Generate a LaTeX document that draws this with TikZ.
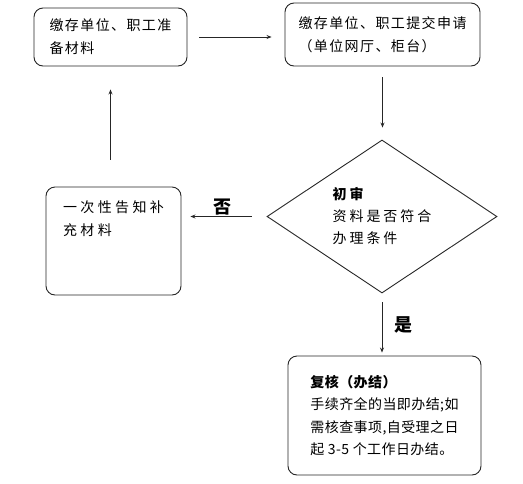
\documentclass[tikz,border=0pt]{standalone}
\usepackage{fontspec}
\setmainfont{Noto Sans CJK SC}
\usetikzlibrary{shapes.geometric,arrows.meta}
\begin{document}
\begin{tikzpicture}[x=1pt,y=-1pt,flow box/.style={draw=black!85, line width=0.9pt, rounded corners=9pt, align=left, inner sep=0pt, font=\fontsize{14}{23}\selectfont\addfontfeature{LetterSpace=10}},wide box/.style={flow box, font=\fontsize{14}{23}\selectfont\addfontfeature{LetterSpace=24}},decision node/.style={draw=black!85, line width=0.9pt, shape=diamond, inner sep=0pt, minimum width=230pt, minimum height=153pt},decision text/.style={align=left, inner sep=0pt, font=\fontsize{14}{22}\selectfont\addfontfeature{LetterSpace=21}},answer label/.style={font=\fontsize{18}{18}\selectfont\bfseries, inner sep=0pt},flow arrow/.style={draw=black!85, line width=0.8pt, -{Stealth[length=5pt,width=4pt]}}]%
  % Step 1%
\node[flow box, minimum width=153pt, minimum height=58pt] (prep) at (110.5,37) {缴存单位、职工准\\备材料};%
  % Step 2%
\node[flow box, minimum width=195pt, minimum height=63pt] (submit) at (382.5,34.5) {缴存单位、职工提交申请\\（单位网厅、柜台）};%
  % First review%
\node[decision node] (check) at (382,216.5) {};%
\node[decision text] (checktext) at (382,216) {\textbf{初审}\\资料是否符合\\办理条件};%
  % Rejected%
\node[wide box, minimum width=135pt, minimum height=108pt] (more) at (113.5,241) {一次性告知补\\充材料\\~\\~};%
  % Accepted%
\node[flow box, minimum width=193pt, minimum height=119pt, font=\fontsize{14}{22.5}\selectfont\addfontfeature{LetterSpace=3}] (finish) at (384.5,415.5) {\textbf{复核（办结）}\\手续齐全的当即办结;如\\需核查事项,自受理之日\\起 3-5 个工作日办结。};%
\node[answer label] (nolabel) at (222,207) {否};%
\node[answer label] (yeslabel) at (403,325) {是};%
\draw[flow arrow, shorten <=12pt, shorten >=13pt] (prep.east) -- (prep.east -| submit.west);%
\draw[flow arrow, shorten <=11pt, shorten >=12pt] (submit.south) -- (submit.south |- check.north);%
\draw[flow arrow, shorten <=15pt, shorten >=9pt] (check.west) -- (check.west -| more.east);%
\draw[flow arrow, shorten <=27pt, shorten >=23pt] (prep.south |- more.north) -- (prep.south);%
\draw[flow arrow, shorten <=9pt, shorten >=3pt] (check.south) -- (check.south |- finish.north);%
\path[use as bounding box] (0,0) rectangle (523,483);%
\end{tikzpicture}
\end{document}
